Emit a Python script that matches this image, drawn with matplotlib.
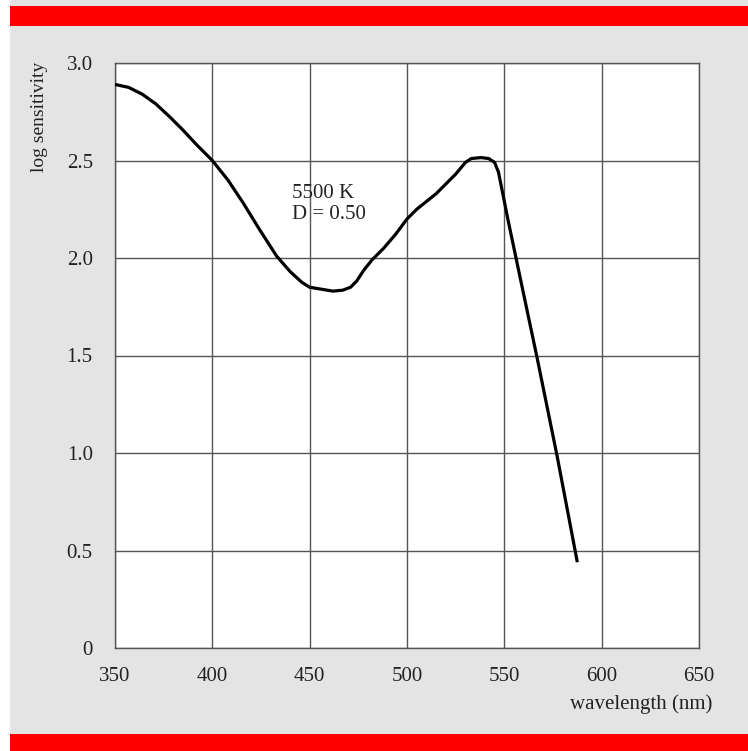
import matplotlib.pyplot as plt
from matplotlib.patches import Rectangle

# values
wavelength = [350, 357, 364, 371, 378, 385, 392, 400, 408, 416, 424, 433,
              440, 446, 450, 456, 462, 467, 471, 474, 478, 482, 488, 494,
              500, 505, 510, 515, 520, 525, 530, 533, 538, 542, 545, 547,
              549, 552, 556, 567, 577, 587.5]
log_sens = [2.89, 2.875, 2.84, 2.79, 2.725, 2.655, 2.58, 2.50, 2.40, 2.28,
            2.15, 2.01, 1.93, 1.875, 1.85, 1.84, 1.83, 1.835, 1.85, 1.88,
            1.94, 1.99, 2.05, 2.12, 2.20, 2.25, 2.29, 2.33, 2.38, 2.43,
            2.49, 2.51, 2.515, 2.51, 2.49, 2.44, 2.34, 2.19, 2.00, 1.48,
            0.99, 0.44]

x_ticks = [350, 400, 450, 500, 550, 600, 650]
y_ticks = [0, 0.5, 1.0, 1.5, 2.0, 2.5, 3.0]
y_labels = ["0", "0.5", "1.0", "1.5", "2.0", "2.5", "3.0"]

plt.rcParams["font.family"] = ["Liberation Serif", "DejaVu Serif"]

W, H = 748, 751
fig = plt.figure(figsize=(W / 100, H / 100), dpi=100, facecolor="white")

# gray panel and red bands
fig.patches.append(Rectangle((10 / W, 0), 1, 1, transform=fig.transFigure,
                             facecolor="#e4e4e4", edgecolor="none", zorder=-3))
fig.patches.append(Rectangle((10 / W, 1 - 26 / H), 1, 20 / H, transform=fig.transFigure,
                             facecolor="#ff0000", edgecolor="none", zorder=-2))
fig.patches.append(Rectangle((10 / W, 0), 1, (H - 734) / H, transform=fig.transFigure,
                             facecolor="#ff0000", edgecolor="none", zorder=-2))

ax = fig.add_axes([115 / W, 1 - 648 / H, (699 - 115) / W, (648 - 63) / H])
ax.set_facecolor("white")

ax.plot(wavelength, log_sens, color="black", lw=2.3, solid_capstyle="butt",
        solid_joinstyle="round", zorder=3)

ax.set_xlim(350, 650)
ax.set_ylim(0, 3.0)
ax.set_xticks(x_ticks)
ax.set_yticks(y_ticks, labels=y_labels)
ax.grid(True, color="#555555", lw=1.0)
ax.tick_params(length=0, labelsize=15, colors="#222222")
ax.tick_params(axis="y", pad=16)
ax.tick_params(axis="x", pad=14)
for s in ax.spines.values():
    s.set_color("#555555")
    s.set_linewidth(1.0)

ax.text(441, 2.33, "5500 K", fontsize=15, va="center", ha="left", color="#222222")
ax.text(441, 2.225, "D = 0.50", fontsize=15, va="center", ha="left", color="#222222")

fig.text(40 / W, 1 - 62 / H, "log sensitivity", rotation=90, ha="center", va="top",
         fontsize=14, color="#222222")
fig.text(712 / W, 1 - 704 / H, "wavelength (nm)", ha="right", va="center",
         fontsize=15, color="#222222")

fig.savefig("out.png", dpi=100, facecolor=fig.get_facecolor())
